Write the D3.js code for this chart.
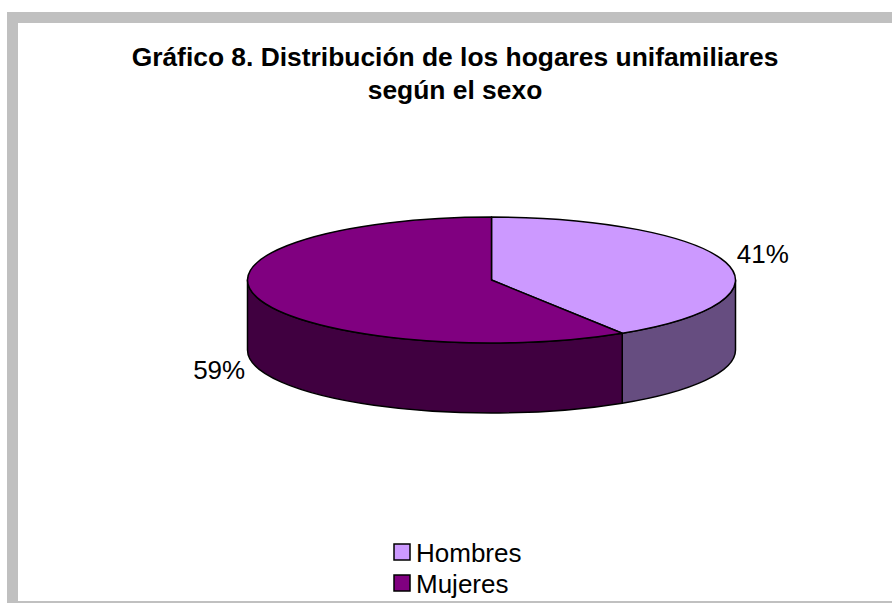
<!DOCTYPE html>
<html>
<head>
<meta charset="utf-8">
<script src="https://cdn.jsdelivr.net/npm/d3@7"></script>
<style>
  body { margin: 0; background: #fff; }
  svg text { font-family: "Liberation Sans", Arial, sans-serif; fill: #000; }
</style>
</head>
<body>
<div class="chart"></div>
<script>
// Data
const categories = ["Hombres", "Mujeres"]
const values = [41, 59]
const topColors = ["#CC99FF", "#800080"]
const sideColors = ["#664D80", "#400040"]
const titleLines = ["Gráfico 8. Distribución de los hogares unifamiliares", "según el sexo"]

let dimensions = {
    width: 892,
    height: 603,
    cx: 491.5,
    cy: 280,
    rx: 244,
    ry: 63,
    depth: 70
}

const svg = d3.select(".chart")
    .append('svg')
    .attr('width', dimensions.width)
    .attr('height', dimensions.height)

// Frame (gray border top / left / bottom)
svg.append('rect').attr('x', 7).attr('y', 12).attr('width', dimensions.width - 7).attr('height', 11).attr('fill', '#C0C0C0')
svg.append('rect').attr('x', 7).attr('y', 12).attr('width', 11).attr('height', dimensions.height - 12).attr('fill', '#C0C0C0')
svg.append('rect').attr('x', 7).attr('y', 601).attr('width', dimensions.width - 7).attr('height', 2).attr('fill', '#C0C0C0')

// Title
svg.selectAll('.title')
    .data(titleLines)
    .join('text')
    .attr('class', 'title')
    .attr('x', 455)
    .attr('y', (d, i) => 66 + i * 33)
    .attr('text-anchor', 'middle')
    .attr('font-size', '26.4px')
    .attr('font-weight', 'bold')
    .text(d => d)

// Pie
const pie = d3.pie().sort(null).startAngle(0).endAngle(2 * Math.PI)
const arcs = pie(values)

const px = a => dimensions.cx + dimensions.rx * Math.sin(a)
const py = a => dimensions.cy - dimensions.ry * Math.cos(a)

// front side wall of a slice, clipped to the visible half (PI/2 .. 3PI/2)
function sidePath(d) {
    const a0 = Math.max(d.startAngle, Math.PI / 2)
    const a1 = Math.min(d.endAngle, 3 * Math.PI / 2)
    if (a1 <= a0) return null
    const h = dimensions.depth
    const r = `${dimensions.rx} ${dimensions.ry}`
    return `M${px(a0)},${py(a0)} A${r} 0 0 1 ${px(a1)},${py(a1)}` +
        ` L${px(a1)},${py(a1) + h} A${r} 0 0 0 ${px(a0)},${py(a0) + h} Z`
}

const pieGroup = svg.append('g')

pieGroup.selectAll('.side')
    .data(arcs)
    .join('path')
    .attr('class', 'side')
    .attr('d', d => sidePath(d))
    .attr('fill', (d, i) => sideColors[i])
    .attr('stroke', '#000')
    .attr('stroke-width', 1.5)
    .attr('stroke-linejoin', 'round')

const arc = d3.arc().innerRadius(0).outerRadius(dimensions.rx)

pieGroup.append('g')
    .attr('transform', `translate(${dimensions.cx},${dimensions.cy}) scale(1,${dimensions.ry / dimensions.rx})`)
    .selectAll('.top')
    .data(arcs)
    .join('path')
    .attr('class', 'top')
    .attr('d', arc)
    .attr('fill', (d, i) => topColors[i])
    .attr('stroke', '#000')
    .attr('stroke-width', 1.5)
    .attr('stroke-linejoin', 'round')
    .attr('vector-effect', 'non-scaling-stroke')

// Labels
const total = d3.sum(values)
pieGroup.selectAll('.label')
    .data(arcs)
    .join('text')
    .attr('class', 'label')
    .attr('font-size', '26px')
    .each(function(d) {
        const mid = (d.startAngle + d.endAngle) / 2
        const front = Math.abs(mid - Math.PI) < Math.PI / 2
        const right = Math.sin(mid) >= 0
        d3.select(this)
            .attr('x', px(mid) + (right ? 11 : -12))
            .attr('y', py(mid) + (front ? dimensions.depth + 11 : 1))
            .attr('text-anchor', right ? 'start' : 'end')
    })
    .text(d => Math.round(d.value / total * 100) + '%')

// Legend
const legend = svg.append('g')
    .selectAll('g')
    .data(categories)
    .join('g')
    .attr('transform', (d, i) => `translate(394, ${544 + i * 31})`)

legend.append('rect')
    .attr('width', 16)
    .attr('height', 16)
    .attr('fill', (d, i) => topColors[i])
    .attr('stroke', '#000')
    .attr('stroke-width', 1.5)

legend.append('text')
    .attr('x', 22)
    .attr('y', 18)
    .attr('font-size', '26px')
    .text(d => d)
</script>
</body>
</html>
